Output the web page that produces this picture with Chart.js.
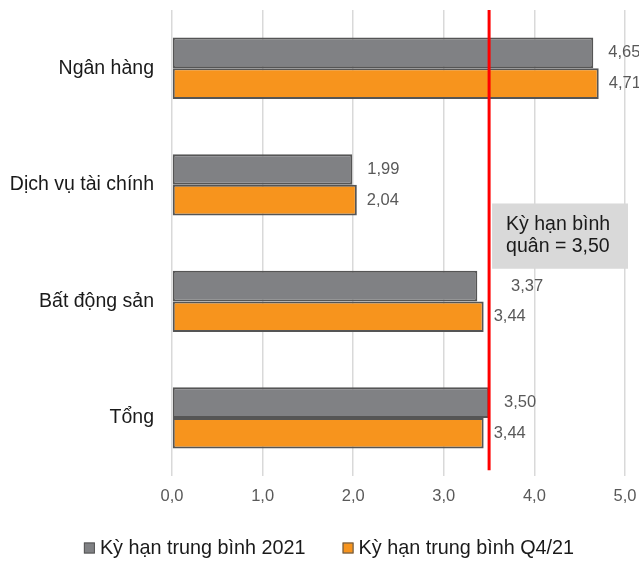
<!DOCTYPE html>
<html>
<head>
<meta charset="utf-8">
<script src="https://cdn.jsdelivr.net/npm/chart.js@4/dist/chart.umd.min.js"></script>
<style>
  html, body { margin: 0; padding: 0; background: #fff; }
  #wrap { width: 639px; height: 563px; }
</style>
</head>
<body>
<div id="wrap"><canvas id="chart" width="639" height="563"></canvas></div>
<script>
// Kỳ hạn trung bình theo ngành
const categories = ['Ngân hàng', 'Dịch vụ tài chính', 'Bất động sản', 'Tổng'];
const seriesNames = ['Kỳ hạn trung bình 2021', 'Kỳ hạn trung bình Q4/21'];
const avg2021 = [4.65, 1.99, 3.37, 3.50];
const avgQ421 = [4.71, 2.04, 3.44, 3.44];
const xTicks = [0, 1, 2, 3, 4, 5];
const benchmark = 3.50;
const benchmarkText = ['Kỳ hạn bình', 'quân = 3,50'];

const FONT = '"Liberation Sans", Arial, sans-serif';
const GREY = '#808184';
const ORANGE = '#F7941D';
const EDGE = '#555555';

const fmt = v => v.toFixed(2).replace('.', ',');

// red benchmark line + grey callout box
const benchmarkPlugin = {
  id: 'benchmark',
  afterDatasetsDraw(chart) {
    const { ctx, chartArea, scales: { x, y } } = chart;
    const lx = x.getPixelForValue(benchmark);

    ctx.save();
    // callout box sits just right of the line
    const top = y.getPixelForValue(1.16);
    const bottom = y.getPixelForValue(1.72);
    ctx.fillStyle = '#D9D9D9';
    ctx.fillRect(lx + 3, top, chartArea.right + 3 - (lx + 3), bottom - top);
    ctx.fillStyle = '#1a1a1a';
    ctx.font = '19.5px ' + FONT;
    ctx.textBaseline = 'middle';
    ctx.textAlign = 'left';
    const mid = (top + bottom) / 2;
    ctx.fillText(benchmarkText[0], lx + 17, mid - 11);
    ctx.fillText(benchmarkText[1], lx + 17, mid + 11);

    ctx.strokeStyle = '#FF0000';
    ctx.lineWidth = 3;
    ctx.beginPath();
    ctx.moveTo(lx, chartArea.top);
    ctx.lineTo(lx, chartArea.bottom - 6);
    ctx.stroke();
    ctx.restore();
  }
};

// value labels to the right of each bar
const valueLabels = {
  id: 'valueLabels',
  afterDraw(chart) {
    const { ctx, scales: { x } } = chart;
    const lx = x.getPixelForValue(benchmark);
    ctx.save();
    ctx.font = '16.5px ' + FONT;
    ctx.fillStyle = '#595959';
    ctx.textAlign = 'left';
    ctx.textBaseline = 'middle';
    chart.data.datasets.forEach((ds, di) => {
      const meta = chart.getDatasetMeta(di);
      meta.data.forEach((bar, i) => {
        let tx = bar.x + (di === 0 ? 15 : 10);
        // keep labels clear of the red line
        if (di === 0 && tx > lx - 4 && tx < lx + 8) tx = lx + 22;
        ctx.fillText(fmt(ds.data[i]), tx, bar.y);
      });
    });
    ctx.restore();
  }
};

// legend drawn under the axis
const legendPlugin = {
  id: 'bottomLegend',
  afterDraw(chart) {
    const { ctx } = chart;
    ctx.save();
    ctx.font = '19.8px ' + FONT;
    ctx.textBaseline = 'middle';
    ctx.textAlign = 'left';
    const box = 11, gap = 5, spacing = 37;
    const widths = seriesNames.map(n => box + gap + ctx.measureText(n).width);
    const total = widths.reduce((a, b) => a + b, 0) + spacing;
    let lx = 329 - total / 2;
    const cy = 548;
    const fills = [GREY, ORANGE];
    seriesNames.forEach((name, i) => {
      ctx.fillStyle = fills[i];
      ctx.fillRect(lx, cy - box / 2, box, box);
      ctx.strokeStyle = EDGE;
      ctx.lineWidth = 1;
      ctx.strokeRect(lx + 0.5, cy - box / 2 + 0.5, box - 1, box - 1);
      ctx.fillStyle = '#1a1a1a';
      ctx.fillText(name, lx + box + gap, cy + 1);
      lx += widths[i] + spacing;
    });
    ctx.restore();
  }
};

new Chart(document.getElementById('chart'), {
  type: 'bar',
  data: {
    labels: categories,
    datasets: [
      {
        label: seriesNames[0],
        data: avg2021,
        backgroundColor: GREY,
        borderColor: EDGE,
        borderWidth: 2,
        borderSkipped: false
      },
      {
        label: seriesNames[1],
        data: avgQ421,
        backgroundColor: ORANGE,
        borderColor: EDGE,
        borderWidth: 2,
        borderSkipped: false
      }
    ]
  },
  options: {
    indexAxis: 'y',
    responsive: false,
    animation: false,
    layout: { padding: { top: 10, right: 14, bottom: 47, left: 8 } },
    datasets: { bar: { barPercentage: 1, categoryPercentage: 0.526 } },
    plugins: {
      legend: { display: false },
      tooltip: { enabled: false }
    },
    scales: {
      x: {
        min: xTicks[0],
        max: xTicks[xTicks.length - 1],
        afterBuildTicks: axis => { axis.ticks = xTicks.map(v => ({ value: v })); },
        afterFit: s => { s.paddingLeft = 0; s.paddingRight = 0; },
        grid: { color: '#D9D9D9', lineWidth: 1.5, drawTicks: false },
        border: { display: false },
        ticks: {
          padding: 10,
          color: '#595959',
          font: { family: FONT, size: 16.5 },
          callback: v => v.toFixed(1).replace('.', ',')
        }
      },
      y: {
        afterFit: s => { s.width = 164; s.paddingTop = 0; s.paddingBottom = 0; },
        grid: { display: false, drawTicks: false },
        border: { display: false },
        ticks: {
          padding: 18,
          color: '#1a1a1a',
          font: { family: FONT, size: 19.5 }
        }
      }
    }
  },
  plugins: [benchmarkPlugin, valueLabels, legendPlugin]
});
</script>
</body>
</html>
